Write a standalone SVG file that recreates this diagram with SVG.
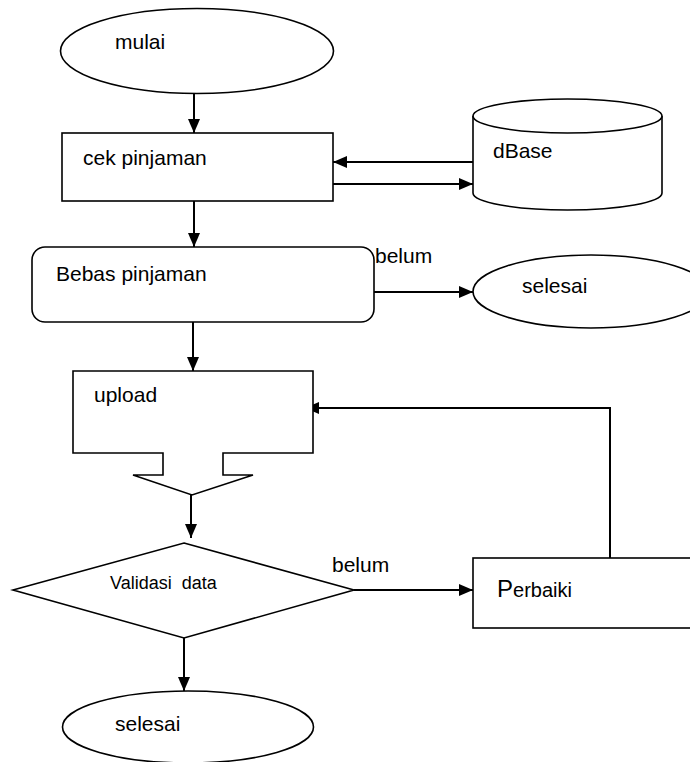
<svg xmlns="http://www.w3.org/2000/svg" width="690" height="762" viewBox="0 0 690 762">
<defs>
<marker id="ah" markerUnits="userSpaceOnUse" viewBox="0 0 14 12" markerWidth="14" markerHeight="12" refX="14" refY="6" orient="auto">
<path d="M0,0 L14,6 L0,12 Z" fill="#000"/>
</marker>
<style>
.s{fill:#fff;stroke:#000;stroke-width:1.6}
.c{fill:none;stroke:#000;stroke-width:2}
.a{marker-end:url(#ah)}
text{font-family:"Liberation Sans",Arial,sans-serif;font-size:21px;fill:#000}
</style>
</defs>
<rect width="690" height="762" fill="#fff"/>
<g id="connectors">
<line class="c a" x1="194" y1="93" x2="194" y2="133"/>
<line class="c a" x1="473" y1="162" x2="333" y2="162"/>
<line class="c a" x1="333" y1="184" x2="473" y2="184"/>
<line class="c a" x1="194" y1="201" x2="194" y2="247"/>
<line class="c a" x1="374" y1="292" x2="473" y2="292"/>
<line class="c a" x1="193" y1="322" x2="193" y2="371"/>
<line class="c a" x1="191" y1="495" x2="191" y2="538"/>
<line class="c a" x1="354" y1="590" x2="473" y2="590"/>
<path class="c a" d="M610,558 V408 H305"/>
<line class="c a" x1="184" y1="638" x2="184" y2="691"/>
</g>
<g id="mulai">
<ellipse class="s" cx="197" cy="51" rx="136.5" ry="42.5"/>
<text x="115" y="49">mulai</text>
</g>
<g id="cek">
<rect class="s" x="62" y="133" width="271" height="68"/>
<text x="83" y="165">cek pinjaman</text>
</g>
<g id="dbase">
<path class="s" d="M473,116 A94.5,17 0 0 1 662,116 V193 A94.5,17 0 0 1 473,193 Z"/>
<path class="s" fill="none" d="M473,116 A94.5,17 0 0 0 662,116"/>
<text x="493" y="158">dBase</text>
</g>
<g id="bebas">
<rect class="s" x="32" y="247" width="342" height="75" rx="13"/>
<text x="56" y="281">Bebas pinjaman</text>
</g>
<text x="375" y="263">belum</text>
<g id="selesai1">
<ellipse class="s" cx="591" cy="291.5" rx="118" ry="36.5"/>
<text x="522" y="293">selesai</text>
</g>
<g id="upload">
<path class="s" d="M73,371 H313 V453 H223 V475 H253 L192,495 L133,475 H163 V453 H73 Z"/>
<text x="94" y="402">upload</text>
</g>
<g id="validasi">
<path class="s" d="M184,543 L354,590 L184,638 L13,590 Z"/>
<text x="110" y="589" font-size="18" style="font-size:18px;white-space:pre" xml:space="preserve">Validasi  data</text>
</g>
<text x="332" y="572">belum</text>
<g id="perbaiki">
<rect class="s" x="473" y="558" width="230" height="70"/>
<text x="497" y="597"><tspan style="font-size:24px">P</tspan><tspan style="font-size:20px">erbaiki</tspan></text>
</g>
<g id="selesai2">
<ellipse class="s" cx="188" cy="727" rx="125.5" ry="36"/>
<text x="115" y="731">selesai</text>
</g>
</svg>
